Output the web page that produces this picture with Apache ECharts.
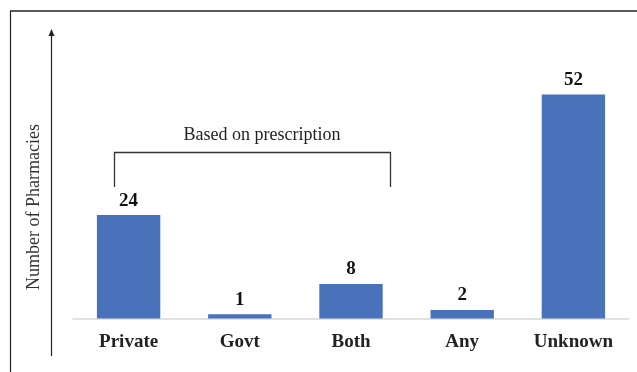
<!DOCTYPE html>
<html>
<head>
<meta charset="utf-8">
<script src="https://cdn.jsdelivr.net/npm/echarts@6/dist/echarts.min.js"></script>
<style>
  html, body { margin: 0; padding: 0; background: #fff; }
  #chart { width: 637px; height: 372px; }
</style>
</head>
<body>
<div id="chart"></div>
<script>
// Pharmacy counts by dispensing category
const categories = ['Private', 'Govt', 'Both', 'Any', 'Unknown'];
const pharmacyCounts = [24, 1, 8, 2, 52];
const yAxisTitle = 'Number of Pharmacies';
const bracketText = 'Based on prescription';

const serif = '"Liberation Serif", "Times New Roman", serif';
const chart = echarts.init(document.getElementById('chart'));

chart.setOption({
  animation: false,
  backgroundColor: '#ffffff',
  grid: { left: 73, right: 8, top: 60, bottom: 53.5 },
  xAxis: {
    type: 'category',
    data: categories,
    axisLine: { lineStyle: { color: '#d9d9d9', width: 1.5 } },
    axisTick: { show: false },
    axisLabel: {
      fontFamily: serif, fontWeight: 'bold', fontSize: 19, color: '#222', margin: 14
    }
  },
  yAxis: {
    type: 'value',
    min: 0, max: 60,
    show: false
  },
  series: [{
    type: 'bar',
    data: pharmacyCounts,
    barWidth: '57%',
    itemStyle: { color: '#4872BA' },
    label: {
      show: true, position: 'top', distance: 5,
      fontFamily: serif, fontWeight: 'bold', fontSize: 19, color: '#111'
    }
  }],
  graphic: [
    // outer frame (top and left edges)
    { type: 'line', shape: { x1: 10, y1: 11, x2: 637, y2: 11 }, style: { stroke: '#222', lineWidth: 1.5 } },
    { type: 'line', shape: { x1: 10.5, y1: 11, x2: 10.5, y2: 372 }, style: { stroke: '#222', lineWidth: 1.2 } },
    // vertical arrow standing in for the value axis
    { type: 'line', shape: { x1: 51.5, y1: 36, x2: 51.5, y2: 356 }, style: { stroke: '#222', lineWidth: 1.2 } },
    { type: 'polygon', shape: { points: [[51.5, 29], [48.5, 36], [54.5, 36]] }, style: { fill: '#222' } },
    // axis title
    {
      type: 'text', x: 34, y: 207, rotation: Math.PI / 2,
      style: {
        text: yAxisTitle, fontFamily: serif, fontSize: 18, fill: '#333',
        textAlign: 'center', textVerticalAlign: 'middle'
      }
    },
    // bracket grouping the prescription categories
    {
      type: 'polyline',
      shape: { points: [[114.5, 187], [114.5, 152.5], [390.5, 152.5], [390.5, 187]] },
      style: { stroke: '#333', lineWidth: 1.3, fill: null }
    },
    {
      type: 'text', x: 262, y: 135,
      style: {
        text: bracketText, fontFamily: serif, fontSize: 18, fill: '#222',
        textAlign: 'center', textVerticalAlign: 'middle'
      }
    }
  ]
});
</script>
</body>
</html>
